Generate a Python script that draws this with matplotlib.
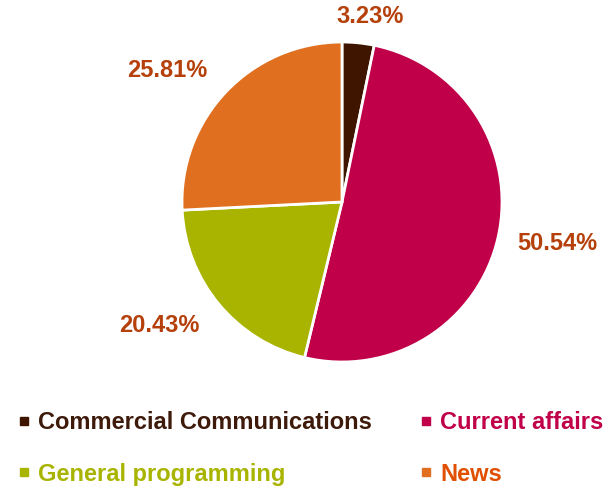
import numpy as np
import matplotlib.pyplot as plt
from matplotlib.lines import Line2D

plt.rcParams['font.family'] = ['Liberation Sans', 'DejaVu Sans']

categories = ['Commercial Communications', 'Current affairs', 'General programming', 'News']
shares = [3.23, 50.54, 20.43, 25.81]
colors = ['#3f1500', '#c00048', '#a8b400', '#e07020']
legend_text_colors = ['#3d1a0a', '#c00048', '#a8b400', '#e05000']
label_color = '#b5400a'
# where each percentage label sits: radial distance (pie radius = 1) and angle in degrees
label_dist = [1.175, 1.37, 1.375, 1.37]
label_angle = [81.4, -10.8, -146, 143]

fig = plt.figure(figsize=(6.08, 4.87), dpi=100)
ax = fig.add_axes([182 / 608, 125 / 487, 320 / 608, 320 / 487])

wedges, _ = ax.pie(shares, colors=colors, startangle=90, counterclock=False,
                   wedgeprops=dict(edgecolor='white', linewidth=2))
ax.set_xlim(-1, 1)
ax.set_ylim(-1, 1)
ax.set_aspect('equal')
ax.axis('off')

for v, d, a in zip(shares, label_dist, label_angle):
    ang = np.deg2rad(a)
    ax.text(d * np.cos(ang), d * np.sin(ang), f'{v:.2f}%', ha='center', va='center',
            fontsize=17, fontweight='bold', color=label_color, clip_on=False)

# legend is filled column by column, so reorder to get the rows right
order = [0, 2, 1, 3]
handles = [Line2D([], [], marker='s', linestyle='none', color=colors[i], markersize=6) for i in order]
leg = fig.legend(handles, [categories[i] for i in order], loc='upper left',
                 bbox_to_anchor=(0.012, 0.175), ncol=2, frameon=False, fontsize=17,
                 handlelength=0.6, handletextpad=0.3, columnspacing=2.0,
                 labelspacing=1.2, borderaxespad=0)
for t, i in zip(leg.get_texts(), order):
    t.set_color(legend_text_colors[i])
    t.set_fontweight('bold')

fig.savefig('out.png', dpi=100)
